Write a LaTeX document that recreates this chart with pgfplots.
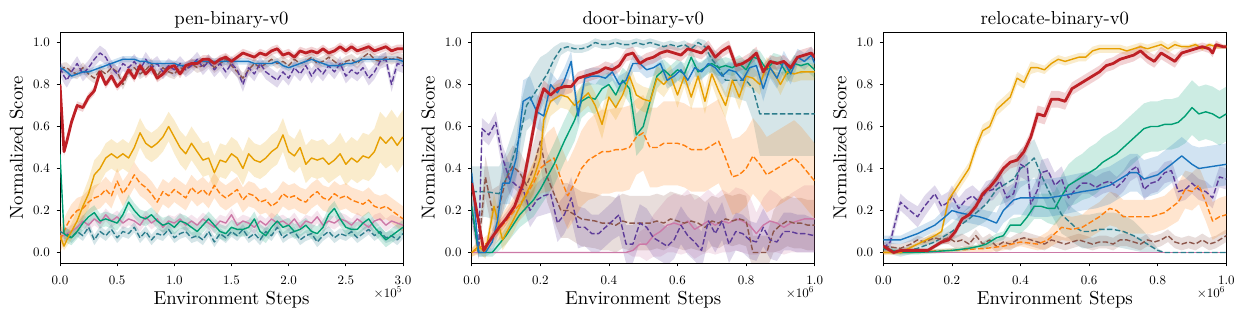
\documentclass[border=0pt]{standalone}
\usepackage{fontspec}
\setmainfont{lmroman10-regular.otf}
\usepackage{pgfplots}
\pgfplotsset{compat=1.18}
\usepackage{pgfplotstable}
\usepgfplotslibrary{fillbetween}

\definecolor{cRed}{RGB}{190,32,38}
\definecolor{cBlue}{RGB}{24,116,190}
\definecolor{cGold}{RGB}{230,159,0}
\definecolor{cGreen}{RGB}{0,158,115}
\definecolor{cPink}{RGB}{204,121,167}
\definecolor{cOrange}{RGB}{255,127,14}
\definecolor{cPurple}{RGB}{94,60,153}
\definecolor{cBrown}{RGB}{140,86,75}
\definecolor{cTeal}{RGB}{45,125,140}

% ---------------- pen-binary-v0 (x in units of 1e5) ----------------
\pgfplotstableread{
x     R    B    P    W    G    O    N    K    T    GS
0     0.80 0.88 0.88 0.87 0.08 0.06 0.47 0.08 0.10 0.02
0.035 0.48 0.87 0.84 0.88 0.03 0.10 0.09 0.08 0.09 0.02
0.06  0.53 0.86 0.82 0.88 0.06 0.13 0.08 0.09 0.09 0.03
0.1   0.62 0.84 0.86 0.86 0.10 0.17 0.07 0.10 0.07 0.04
0.15  0.70 0.85 0.90 0.85 0.15 0.20 0.10 0.12 0.10 0.05
0.2   0.69 0.86 0.85 0.88 0.22 0.21 0.14 0.15 0.08 0.06
0.25  0.74 0.86 0.88 0.85 0.28 0.24 0.17 0.13 0.12 0.07
0.3   0.77 0.87 0.92 0.83 0.37 0.26 0.19 0.16 0.06 0.07
0.35  0.86 0.88 0.95 0.87 0.40 0.27 0.15 0.14 0.10 0.07
0.4   0.80 0.89 0.93 0.85 0.45 0.30 0.16 0.18 0.08 0.07
0.45  0.84 0.90 0.88 0.88 0.47 0.27 0.15 0.15 0.11 0.07
0.5   0.79 0.91 0.85 0.86 0.45 0.34 0.14 0.17 0.07 0.07
0.55  0.82 0.92 0.90 0.80 0.47 0.28 0.18 0.14 0.10 0.07
0.6   0.87 0.92 0.88 0.86 0.45 0.32 0.24 0.16 0.09 0.07
0.65  0.83 0.92 0.91 0.88 0.50 0.37 0.20 0.15 0.12 0.07
0.7   0.89 0.91 0.87 0.85 0.57 0.33 0.17 0.13 0.07 0.07
0.75  0.85 0.91 0.92 0.87 0.52 0.31 0.16 0.17 0.10 0.07
0.8   0.88 0.90 0.88 0.90 0.50 0.28 0.18 0.14 0.06 0.07
0.85  0.83 0.90 0.90 0.84 0.52 0.24 0.15 0.16 0.09 0.07
0.9   0.85 0.90 0.86 0.88 0.55 0.29 0.13 0.12 0.08 0.07
0.95  0.88 0.90 0.89 0.86 0.60 0.27 0.14 0.15 0.11 0.07
1.0   0.89 0.90 0.87 0.85 0.55 0.30 0.12 0.14 0.07 0.08
1.05  0.85 0.89 0.90 0.88 0.50 0.28 0.15 0.16 0.09 0.08
1.1   0.89 0.89 0.87 0.87 0.47 0.26 0.14 0.13 0.10 0.08
1.15  0.90 0.90 0.89 0.90 0.52 0.31 0.12 0.15 0.07 0.08
1.2   0.90 0.91 0.92 0.88 0.48 0.28 0.10 0.13 0.08 0.08
1.25  0.92 0.91 0.88 0.89 0.44 0.30 0.13 0.16 0.06 0.08
1.3   0.92 0.91 0.91 0.91 0.45 0.27 0.16 0.14 0.10 0.08
1.35  0.90 0.91 0.87 0.88 0.38 0.32 0.13 0.12 0.05 0.08
1.4   0.92 0.91 0.90 0.90 0.44 0.28 0.10 0.15 0.09 0.08
1.45  0.93 0.91 0.86 0.92 0.43 0.26 0.09 0.14 0.07 0.08
1.5   0.91 0.91 0.90 0.89 0.47 0.28 0.12 0.18 0.10 0.08
1.55  0.93 0.91 0.87 0.86 0.45 0.30 0.11 0.13 0.08 0.08
1.6   0.95 0.91 0.80 0.83 0.40 0.25 0.11 0.15 0.11 0.08
1.65  0.94 0.91 0.88 0.87 0.47 0.28 0.12 0.14 0.07 0.08
1.7   0.93 0.90 0.85 0.90 0.44 0.27 0.16 0.12 0.09 0.08
1.75  0.95 0.90 0.90 0.88 0.43 0.24 0.10 0.15 0.06 0.08
1.8   0.94 0.90 0.86 0.90 0.45 0.25 0.08 0.13 0.10 0.08
1.85  0.96 0.90 0.84 0.92 0.48 0.22 0.12 0.16 0.08 0.08
1.9   0.97 0.91 0.82 0.90 0.50 0.24 0.15 0.14 0.12 0.08
1.95  0.94 0.89 0.86 0.91 0.56 0.28 0.12 0.15 0.07 0.08
2.0   0.95 0.88 0.83 0.89 0.48 0.26 0.13 0.13 0.09 0.08
2.05  0.93 0.89 0.88 0.92 0.46 0.27 0.10 0.16 0.10 0.08
2.1   0.96 0.90 0.85 0.90 0.50 0.25 0.11 0.12 0.06 0.09
2.15  0.95 0.91 0.89 0.91 0.42 0.24 0.13 0.15 0.08 0.09
2.2   0.96 0.92 0.84 0.93 0.45 0.27 0.10 0.14 0.09 0.09
2.25  0.95 0.91 0.88 0.90 0.44 0.29 0.09 0.17 0.05 0.09
2.3   0.97 0.90 0.85 0.91 0.45 0.26 0.12 0.13 0.08 0.09
2.35  0.95 0.89 0.89 0.93 0.42 0.25 0.18 0.15 0.10 0.09
2.4   0.96 0.89 0.86 0.91 0.44 0.28 0.21 0.14 0.07 0.09
2.45  0.98 0.89 0.90 0.89 0.47 0.26 0.16 0.16 0.09 0.10
2.5   0.96 0.90 0.84 0.91 0.42 0.27 0.12 0.15 0.08 0.10
2.55  0.98 0.90 0.87 0.92 0.45 0.25 0.11 0.13 0.10 0.10
2.6   0.96 0.91 0.85 0.90 0.43 0.24 0.11 0.16 0.07 0.10
2.65  0.97 0.92 0.88 0.93 0.46 0.23 0.14 0.14 0.09 0.11
2.7   0.98 0.92 0.83 0.95 0.45 0.25 0.16 0.12 0.11 0.11
2.75  0.96 0.92 0.86 0.92 0.48 0.22 0.12 0.15 0.08 0.11
2.8   0.97 0.92 0.91 0.91 0.55 0.21 0.09 0.16 0.10 0.12
2.85  0.98 0.92 0.92 0.93 0.52 0.22 0.06 0.13 0.07 0.12
2.9   0.96 0.92 0.80 0.92 0.55 0.20 0.08 0.15 0.08 0.13
2.95  0.97 0.92 0.90 0.93 0.51 0.18 0.10 0.14 0.06 0.13
3.0   0.97 0.91 0.89 0.92 0.55 0.16 0.12 0.13 0.09 0.13
}\pen

% ---------------- door-binary-v0 (x in units of 1e6) ----------------
\pgfplotstableread{
x y s
0 0.33 0.03
0.035 0.01 0.01
0.05 0.05 0.02
0.08 0.12 0.03
0.10 0.16 0.03
0.125 0.22 0.03
0.15 0.33 0.04
0.17 0.50 0.05
0.19 0.68 0.05
0.21 0.78 0.04
0.23 0.75 0.04
0.25 0.78 0.04
0.27 0.79 0.04
0.29 0.79 0.03
0.31 0.83 0.03
0.33 0.84 0.03
0.35 0.85 0.03
0.37 0.86 0.03
0.39 0.88 0.03
0.41 0.87 0.03
0.43 0.89 0.03
0.45 0.94 0.03
0.47 0.95 0.03
0.49 0.90 0.03
0.51 0.92 0.03
0.53 0.93 0.03
0.55 0.95 0.03
0.57 0.96 0.03
0.59 0.95 0.03
0.61 0.94 0.03
0.63 0.97 0.03
0.65 0.96 0.03
0.67 0.95 0.03
0.69 0.98 0.03
0.71 0.93 0.03
0.73 0.96 0.03
0.75 0.98 0.03
0.77 0.89 0.03
0.79 0.90 0.03
0.81 0.92 0.03
0.83 0.95 0.03
0.85 0.86 0.03
0.87 0.91 0.03
0.89 0.90 0.03
0.91 0.91 0.03
0.93 0.88 0.03
0.95 0.93 0.03
0.97 0.94 0.03
0.99 0.95 0.03
1.0 0.93 0.03
}\dRed
\pgfplotstableread{
x y s
0 0.38 0.05
0.02 0.0 0.02
0.04 0.0 0.02
0.06 0.05 0.05
0.075 0.15 0.08
0.09 0.33 0.10
0.11 0.33 0.10
0.13 0.45 0.10
0.15 0.72 0.10
0.17 0.74 0.10
0.19 0.67 0.08
0.21 0.65 0.08
0.23 0.80 0.06
0.25 0.76 0.06
0.27 0.82 0.06
0.29 0.91 0.05
0.31 0.65 0.05
0.33 0.83 0.04
0.35 0.84 0.04
0.37 0.84 0.04
0.39 0.83 0.04
0.41 0.86 0.04
0.43 0.80 0.04
0.45 0.82 0.04
0.47 0.90 0.04
0.49 0.90 0.04
0.51 0.87 0.04
0.53 0.88 0.04
0.55 0.90 0.04
0.57 0.82 0.04
0.59 0.84 0.04
0.61 0.87 0.04
0.63 0.82 0.04
0.65 0.88 0.04
0.67 0.86 0.04
0.69 0.90 0.04
0.71 0.88 0.04
0.73 0.84 0.04
0.75 0.87 0.04
0.77 0.86 0.04
0.79 0.82 0.05
0.81 0.88 0.05
0.83 0.89 0.05
0.85 0.78 0.06
0.87 0.88 0.05
0.89 0.83 0.05
0.91 0.91 0.05
0.93 0.85 0.05
0.95 0.93 0.04
0.97 0.91 0.04
0.99 0.94 0.04
1.0 0.90 0.04
}\dBlue
\pgfplotstableread{
x y s
0 0.29 0.12
0.04 0.29 0.12
0.08 0.28 0.13
0.10 0.35 0.13
0.12 0.45 0.13
0.14 0.55 0.14
0.16 0.70 0.12
0.18 0.75 0.13
0.20 0.80 0.13
0.22 0.85 0.10
0.24 0.92 0.06
0.26 0.97 0.03
0.28 0.98 0.02
0.30 0.97 0.02
0.32 0.97 0.02
0.34 0.98 0.02
0.36 1.00 0.02
0.38 0.99 0.02
0.40 0.99 0.02
0.42 1.00 0.02
0.44 0.99 0.02
0.46 0.99 0.02
0.48 1.00 0.02
0.50 0.99 0.02
0.52 1.00 0.02
0.54 0.99 0.02
0.56 0.98 0.02
0.58 0.99 0.02
0.60 0.98 0.02
0.62 0.99 0.02
0.64 0.97 0.02
0.66 1.00 0.02
0.68 0.98 0.03
0.70 0.92 0.05
0.72 0.88 0.07
0.74 0.82 0.08
0.76 0.82 0.08
0.78 0.82 0.09
0.80 0.82 0.10
0.82 0.78 0.15
0.84 0.66 0.20
0.86 0.66 0.20
0.88 0.66 0.20
0.90 0.66 0.20
0.92 0.66 0.20
0.94 0.66 0.20
0.96 0.66 0.20
0.98 0.66 0.20
1.0 0.66 0.20
}\dTeal
\pgfplotstableread{
x y s
0 0.0 0.02
0.02 0.03 0.03
0.04 0.0 0.03
0.065 0.22 0.06
0.09 0.06 0.05
0.12 0.15 0.06
0.15 0.25 0.06
0.18 0.35 0.08
0.20 0.45 0.08
0.21 0.63 0.08
0.23 0.72 0.07
0.26 0.75 0.06
0.28 0.74 0.06
0.30 0.70 0.06
0.32 0.73 0.06
0.34 0.76 0.06
0.36 0.70 0.06
0.38 0.61 0.07
0.40 0.74 0.06
0.42 0.69 0.06
0.44 0.75 0.06
0.46 0.84 0.06
0.48 0.75 0.06
0.50 0.73 0.06
0.52 0.72 0.06
0.54 0.83 0.06
0.56 0.80 0.06
0.58 0.84 0.05
0.60 0.75 0.06
0.62 0.84 0.05
0.64 0.74 0.06
0.66 0.84 0.05
0.68 0.72 0.06
0.70 0.85 0.05
0.72 0.77 0.06
0.74 0.70 0.06
0.76 0.82 0.05
0.78 0.74 0.06
0.80 0.84 0.05
0.82 0.83 0.05
0.84 0.80 0.05
0.86 0.89 0.04
0.88 0.86 0.04
0.90 0.80 0.05
0.92 0.86 0.04
0.94 0.85 0.04
0.96 0.86 0.04
0.98 0.86 0.04
1.0 0.86 0.04
}\dGold
\pgfplotstableread{
x y s
0 0.22 0.05
0.02 0.0 0.02
0.06 0.0 0.02
0.10 0.08 0.04
0.14 0.18 0.06
0.18 0.25 0.08
0.20 0.30 0.08
0.24 0.42 0.10
0.27 0.53 0.10
0.30 0.63 0.10
0.32 0.72 0.08
0.34 0.74 0.07
0.36 0.73 0.07
0.38 0.78 0.06
0.40 0.80 0.06
0.42 0.75 0.06
0.44 0.82 0.06
0.46 0.78 0.07
0.48 0.56 0.10
0.50 0.60 0.10
0.52 0.72 0.08
0.54 0.84 0.06
0.56 0.87 0.05
0.58 0.84 0.05
0.60 0.87 0.05
0.62 0.85 0.05
0.64 0.93 0.04
0.66 0.86 0.04
0.68 0.88 0.04
0.70 0.90 0.04
0.72 0.88 0.04
0.74 0.89 0.04
0.76 0.88 0.04
0.78 0.90 0.04
0.80 0.87 0.04
0.82 0.93 0.04
0.84 0.92 0.04
0.86 0.87 0.04
0.88 0.91 0.04
0.90 0.90 0.04
0.92 0.85 0.04
0.94 0.90 0.04
0.96 0.89 0.04
0.98 0.90 0.04
1.0 0.87 0.04
}\dGreen
\pgfplotstableread{
x y s
0 0.0 0.02
0.05 0.05 0.04
0.10 0.15 0.06
0.15 0.25 0.08
0.18 0.33 0.10
0.20 0.40 0.12
0.22 0.43 0.14
0.24 0.45 0.15
0.26 0.35 0.16
0.28 0.27 0.16
0.30 0.33 0.17
0.32 0.40 0.18
0.34 0.44 0.19
0.36 0.46 0.20
0.38 0.48 0.20
0.40 0.48 0.20
0.42 0.49 0.20
0.44 0.49 0.20
0.46 0.50 0.20
0.48 0.55 0.18
0.50 0.57 0.18
0.52 0.50 0.19
0.54 0.50 0.19
0.56 0.52 0.20
0.58 0.52 0.20
0.60 0.52 0.20
0.62 0.51 0.20
0.64 0.49 0.20
0.66 0.49 0.20
0.68 0.49 0.20
0.70 0.51 0.20
0.72 0.53 0.20
0.74 0.45 0.19
0.76 0.36 0.18
0.78 0.37 0.18
0.80 0.40 0.18
0.82 0.46 0.18
0.84 0.42 0.18
0.86 0.37 0.18
0.88 0.39 0.18
0.90 0.41 0.18
0.92 0.43 0.18
0.94 0.45 0.18
0.96 0.42 0.18
0.98 0.38 0.18
1.0 0.34 0.18
}\dOrange
\pgfplotstableread{
x y s
0 0.20 0.05
0.02 0.0 0.03
0.03 0.59 0.05
0.05 0.56 0.05
0.07 0.62 0.05
0.09 0.45 0.06
0.11 0.35 0.07
0.13 0.32 0.08
0.15 0.30 0.08
0.17 0.20 0.08
0.19 0.25 0.08
0.21 0.27 0.09
0.23 0.28 0.09
0.25 0.14 0.09
0.27 0.18 0.09
0.29 0.26 0.10
0.31 0.12 0.10
0.33 0.12 0.09
0.35 0.09 0.09
0.37 0.09 0.09
0.39 0.12 0.09
0.41 0.15 0.09
0.43 0.18 0.10
0.45 0.04 0.09
0.47 0.04 0.09
0.49 0.14 0.09
0.51 0.12 0.09
0.53 0.07 0.09
0.55 0.05 0.09
0.57 0.03 0.09
0.59 0.06 0.09
0.61 0.13 0.09
0.63 0.08 0.09
0.65 0.05 0.09
0.67 0.01 0.09
0.69 0.15 0.09
0.71 0.09 0.09
0.73 0.15 0.09
0.75 0.04 0.09
0.77 0.10 0.09
0.79 0.09 0.09
0.81 0.06 0.09
0.83 0.05 0.09
0.85 0.12 0.09
0.87 0.06 0.09
0.89 0.05 0.09
0.91 0.10 0.09
0.93 0.10 0.09
0.95 0.09 0.09
0.97 0.09 0.09
1.0 0.08 0.08
}\dPurple
\pgfplotstableread{
x y s
0 0.20 0.08
0.02 0.02 0.05
0.04 0.36 0.10
0.06 0.20 0.10
0.08 0.22 0.10
0.10 0.35 0.10
0.12 0.41 0.10
0.14 0.38 0.10
0.16 0.32 0.10
0.18 0.40 0.12
0.20 0.53 0.12
0.22 0.36 0.12
0.24 0.28 0.13
0.26 0.20 0.13
0.28 0.20 0.13
0.30 0.18 0.13
0.32 0.16 0.13
0.36 0.15 0.13
0.38 0.14 0.13
0.40 0.14 0.13
0.42 0.13 0.13
0.44 0.15 0.13
0.46 0.14 0.13
0.48 0.14 0.13
0.50 0.14 0.13
0.52 0.14 0.13
0.54 0.15 0.13
0.56 0.14 0.13
0.58 0.16 0.13
0.60 0.15 0.13
0.62 0.14 0.13
0.64 0.15 0.13
0.66 0.14 0.13
0.68 0.12 0.12
0.70 0.15 0.12
0.72 0.14 0.12
0.74 0.16 0.12
0.76 0.15 0.12
0.78 0.16 0.12
0.80 0.15 0.12
0.82 0.0 0.08
0.86 0.0 0.08
0.88 0.10 0.10
0.90 0.13 0.12
0.92 0.15 0.12
0.94 0.14 0.12
0.96 0.14 0.12
0.98 0.13 0.12
1.0 0.13 0.12
}\dBrown
\pgfplotstableread{
x y s
0 0.0 0.0
0.45 0.0 0.0
0.47 0.01 0.03
0.49 0.04 0.06
0.51 0.04 0.08
0.53 0.08 0.10
0.55 0.10 0.12
0.57 0.13 0.13
0.59 0.14 0.14
0.61 0.13 0.14
0.63 0.15 0.15
0.65 0.11 0.14
0.67 0.13 0.14
0.69 0.15 0.15
0.71 0.13 0.14
0.73 0.15 0.15
0.75 0.14 0.14
0.77 0.16 0.15
0.79 0.15 0.15
0.81 0.13 0.14
0.83 0.09 0.10
0.85 0.13 0.13
0.87 0.15 0.15
0.89 0.14 0.14
0.91 0.12 0.13
0.93 0.14 0.14
0.95 0.15 0.15
0.97 0.16 0.16
1.0 0.16 0.16
}\dPink

% ---------------- relocate-binary-v0 (x in units of 1e6) ----------------
\pgfplotstableread{
x y s
0 0.0 0.01
0.05 0.0 0.01
0.10 0.04 0.01
0.15 0.08 0.02
0.17 0.10 0.02
0.19 0.25 0.03
0.21 0.30 0.03
0.23 0.35 0.03
0.25 0.40 0.03
0.27 0.50 0.03
0.29 0.58 0.03
0.31 0.60 0.03
0.33 0.68 0.03
0.35 0.71 0.03
0.37 0.74 0.03
0.39 0.83 0.03
0.41 0.81 0.03
0.43 0.88 0.03
0.45 0.88 0.02
0.47 0.87 0.02
0.49 0.90 0.02
0.51 0.92 0.02
0.53 0.91 0.02
0.55 0.92 0.02
0.57 0.93 0.02
0.59 0.93 0.02
0.61 0.96 0.02
0.63 0.97 0.02
0.65 0.97 0.02
0.67 0.97 0.02
0.69 0.97 0.02
0.71 0.96 0.02
0.73 0.97 0.02
0.75 0.98 0.02
0.77 0.97 0.02
0.79 0.98 0.02
0.81 0.99 0.02
0.83 0.97 0.02
0.85 0.99 0.02
0.87 0.98 0.01
0.89 0.98 0.01
0.91 0.99 0.01
0.93 0.97 0.01
0.95 0.99 0.01
0.97 0.98 0.01
1.0 0.98 0.01
}\rGold
\pgfplotstableread{
x y s
0 0.03 0.01
0.03 0.0 0.01
0.05 0.01 0.01
0.10 0.01 0.01
0.13 0.01 0.01
0.15 0.03 0.01
0.17 0.05 0.01
0.19 0.06 0.02
0.21 0.10 0.02
0.23 0.16 0.02
0.25 0.18 0.02
0.27 0.22 0.02
0.29 0.28 0.02
0.31 0.31 0.02
0.33 0.35 0.03
0.35 0.40 0.03
0.37 0.43 0.03
0.39 0.44 0.03
0.41 0.48 0.03
0.43 0.55 0.03
0.45 0.66 0.04
0.47 0.65 0.04
0.49 0.73 0.04
0.51 0.73 0.04
0.53 0.72 0.04
0.55 0.78 0.03
0.57 0.80 0.03
0.59 0.82 0.03
0.61 0.84 0.03
0.63 0.86 0.03
0.65 0.89 0.03
0.67 0.90 0.03
0.69 0.92 0.03
0.71 0.93 0.03
0.73 0.94 0.03
0.75 0.96 0.03
0.77 0.93 0.03
0.79 0.91 0.03
0.81 0.95 0.03
0.83 0.93 0.03
0.85 0.91 0.03
0.87 0.95 0.02
0.89 0.96 0.02
0.91 0.97 0.02
0.93 0.98 0.02
0.95 0.97 0.02
0.96 0.95 0.02
0.97 0.99 0.02
0.99 0.98 0.01
1.0 0.98 0.01
}\rRed
\pgfplotstableread{
x y s
0 0.02 0.01
0.05 0.0 0.01
0.10 0.0 0.01
0.20 0.01 0.01
0.25 0.02 0.01
0.28 0.03 0.01
0.30 0.04 0.02
0.33 0.07 0.02
0.35 0.08 0.02
0.37 0.13 0.03
0.40 0.13 0.04
0.42 0.17 0.05
0.44 0.22 0.06
0.46 0.22 0.06
0.48 0.21 0.07
0.50 0.21 0.08
0.52 0.27 0.10
0.54 0.32 0.10
0.56 0.34 0.11
0.58 0.36 0.11
0.60 0.38 0.12
0.62 0.40 0.12
0.64 0.43 0.12
0.66 0.45 0.12
0.68 0.47 0.12
0.70 0.50 0.12
0.72 0.53 0.12
0.74 0.56 0.12
0.76 0.59 0.12
0.78 0.60 0.12
0.80 0.60 0.12
0.82 0.61 0.12
0.84 0.61 0.12
0.86 0.62 0.12
0.88 0.65 0.13
0.90 0.69 0.13
0.92 0.66 0.13
0.94 0.67 0.13
0.96 0.66 0.13
0.98 0.64 0.13
1.0 0.66 0.13
}\rGreen
\pgfplotstableread{
x y s
0 0.06 0.02
0.05 0.06 0.02
0.10 0.09 0.03
0.15 0.13 0.03
0.18 0.17 0.04
0.20 0.20 0.04
0.22 0.19 0.04
0.25 0.18 0.04
0.28 0.17 0.04
0.30 0.16 0.04
0.33 0.14 0.05
0.35 0.20 0.06
0.38 0.25 0.07
0.40 0.26 0.08
0.44 0.26 0.09
0.48 0.26 0.09
0.52 0.27 0.09
0.55 0.28 0.09
0.58 0.29 0.09
0.62 0.30 0.09
0.66 0.32 0.09
0.70 0.36 0.09
0.72 0.38 0.09
0.74 0.38 0.09
0.76 0.35 0.09
0.80 0.37 0.09
0.84 0.42 0.09
0.87 0.46 0.09
0.90 0.42 0.09
0.92 0.40 0.10
0.96 0.41 0.10
1.0 0.42 0.10
}\rBlue
\pgfplotstableread{
x y s
0 0.02 0.02
0.02 0.05 0.03
0.05 0.24 0.04
0.07 0.21 0.04
0.10 0.17 0.05
0.12 0.22 0.05
0.15 0.28 0.04
0.17 0.22 0.05
0.19 0.24 0.05
0.20 0.27 0.05
0.22 0.21 0.05
0.24 0.25 0.05
0.26 0.27 0.05
0.28 0.24 0.05
0.30 0.29 0.05
0.32 0.30 0.05
0.34 0.34 0.05
0.36 0.26 0.05
0.38 0.28 0.05
0.40 0.42 0.06
0.42 0.40 0.06
0.43 0.23 0.06
0.45 0.30 0.06
0.46 0.38 0.06
0.48 0.39 0.06
0.50 0.32 0.06
0.52 0.35 0.06
0.54 0.26 0.06
0.56 0.30 0.05
0.58 0.33 0.05
0.60 0.33 0.05
0.62 0.31 0.05
0.64 0.33 0.05
0.66 0.34 0.05
0.68 0.31 0.05
0.70 0.34 0.05
0.72 0.39 0.05
0.74 0.41 0.05
0.76 0.30 0.05
0.78 0.33 0.05
0.80 0.34 0.05
0.82 0.38 0.05
0.84 0.39 0.05
0.86 0.29 0.05
0.88 0.30 0.05
0.90 0.33 0.05
0.92 0.30 0.05
0.94 0.29 0.05
0.96 0.26 0.05
0.98 0.36 0.05
1.0 0.35 0.05
}\rPurple
\pgfplotstableread{
x y s
0 0.02 0.02
0.05 0.0 0.02
0.10 0.02 0.02
0.15 0.05 0.03
0.20 0.10 0.04
0.25 0.16 0.06
0.30 0.23 0.08
0.33 0.30 0.08
0.36 0.33 0.09
0.38 0.35 0.09
0.40 0.40 0.09
0.42 0.42 0.09
0.44 0.45 0.09
0.46 0.37 0.09
0.48 0.30 0.09
0.50 0.24 0.09
0.52 0.18 0.09
0.54 0.15 0.08
0.56 0.12 0.08
0.58 0.10 0.08
0.60 0.10 0.08
0.63 0.11 0.08
0.67 0.11 0.08
0.70 0.10 0.08
0.73 0.08 0.07
0.76 0.05 0.05
0.78 0.03 0.03
0.80 0.01 0.01
0.82 0.0 0.0
1.0 0.0 0.0
}\rTeal
\pgfplotstableread{
x y s
0 0.0 0.01
0.20 0.01 0.01
0.30 0.02 0.02
0.35 0.03 0.02
0.40 0.05 0.02
0.45 0.04 0.03
0.48 0.06 0.04
0.50 0.09 0.05
0.52 0.12 0.06
0.55 0.11 0.06
0.58 0.12 0.06
0.60 0.14 0.07
0.63 0.17 0.07
0.66 0.21 0.08
0.68 0.20 0.08
0.70 0.17 0.08
0.74 0.17 0.08
0.78 0.17 0.08
0.82 0.19 0.08
0.86 0.24 0.09
0.88 0.30 0.09
0.90 0.29 0.09
0.92 0.32 0.09
0.94 0.24 0.09
0.96 0.15 0.09
0.98 0.17 0.09
1.0 0.18 0.09
}\rOrange
\pgfplotstableread{
x y s
0 0.03 0.02
0.05 0.02 0.02
0.08 0.04 0.02
0.10 0.06 0.02
0.12 0.05 0.02
0.15 0.07 0.02
0.17 0.06 0.02
0.19 0.07 0.03
0.21 0.05 0.03
0.23 0.06 0.03
0.25 0.04 0.03
0.27 0.08 0.03
0.29 0.04 0.03
0.31 0.06 0.03
0.33 0.03 0.03
0.35 0.05 0.03
0.37 0.04 0.03
0.39 0.06 0.03
0.41 0.07 0.03
0.43 0.06 0.03
0.45 0.05 0.03
0.47 0.04 0.03
0.49 0.06 0.03
0.51 0.05 0.03
0.53 0.04 0.03
0.55 0.05 0.03
0.57 0.06 0.03
0.59 0.05 0.03
0.61 0.04 0.03
0.63 0.05 0.03
0.65 0.05 0.03
0.67 0.04 0.03
0.69 0.06 0.03
0.71 0.06 0.03
0.73 0.05 0.03
0.75 0.04 0.03
0.77 0.06 0.03
0.79 0.05 0.03
0.81 0.06 0.03
0.83 0.08 0.03
0.85 0.05 0.03
0.87 0.04 0.03
0.89 0.05 0.03
0.91 0.04 0.03
0.93 0.06 0.03
0.95 0.04 0.03
0.97 0.05 0.03
0.99 0.07 0.03
1.0 0.08 0.03
}\rBrown
\pgfplotstableread{
x y s
0 0.0 0.004
1.0 0.0 0.004
}\rPink

% series: #1 table, #2 id, #3 y column, #4 band half width, #5 colour, #6 line style
\newcommand{\srs}[6]{%
  \addplot[draw=none, name path=U#2, forget plot] table[x=x, y expr=\thisrow{#3}+#4] {#1};
  \addplot[draw=none, name path=L#2, forget plot] table[x=x, y expr=\thisrow{#3}-#4] {#1};
  \addplot[fill=#5, fill opacity=0.2, draw=none, forget plot] fill between[of=U#2 and L#2];
  \addplot[#5, #6] table[x=x, y=#3] {#1};
}

\pgfplotsset{
  panel/.style={
    scale only axis, width=343bp, height=231bp,
    xmin=0, ymin=-0.05, ymax=1.05,
    ytick={0,0.2,0.4,0.6,0.8,1},
    tick align=outside, tick pos=left, major tick length=3.5bp,
    axis line style={line width=0.8bp},
    every tick/.style={black, line width=0.8bp},
    tick label style={font=\fontsize{13}{15}\selectfont},
    xticklabel={\pgfmathprintnumber[fixed,fixed zerofill,precision=1,assume math mode=true]{\tick}},
    yticklabel={\pgfmathprintnumber[fixed,fixed zerofill,precision=1,assume math mode=true]{\tick}},
    xticklabel style={anchor=base, inner sep=0pt, yshift=-17.5bp},
    yticklabel style={anchor=east, inner sep=0pt, xshift=-6.5bp},
    title style={font=\fontsize{18.8}{22}\selectfont, at={(axis description cs:0.5,1.0325)}, anchor=base, yshift=-6pt},
    label style={font=\fontsize{18.8}{22}\selectfont},
    xlabel style={at={(axis description cs:0.5,-0.1818)}, anchor=base},
    ylabel style={at={(axis description cs:-0.1079,0.5)}, anchor=base},
    ylabel={Normalized Score}, xlabel={Environment Steps},
    every axis plot/.append style={line width=1.4bp, line join=round},
  },
  dsh/.style={dash pattern=on 5.5bp off 2.4bp},
  thick red/.style={line width=2.8bp},
}

\begin{document}
\begin{tikzpicture}

\begin{axis}[panel, at={(60bp,56bp)}, anchor=south west, xmax=3, xtick={0,0.5,1,1.5,2,2.5,3}, title={pen-binary-v0}]
  \srs{\pen}{pK}{K}{0.03}{cPink}{solid}
  \srs{\pen}{pT}{T}{0.025}{cTeal}{dsh}
  \srs{\pen}{pW}{W}{0.025}{cBrown}{dsh}
  \srs{\pen}{pP}{P}{0.035}{cPurple}{dsh}
  \srs{\pen}{pO}{O}{0.06}{cOrange}{dsh}
  \srs{\pen}{pN}{N}{0.035}{cGreen}{solid}
  \srs{\pen}{pG}{G}{\thisrow{GS}}{cGold}{solid}
  \srs{\pen}{pB}{B}{0.015}{cBlue}{solid}
  \srs{\pen}{pR}{R}{0.02}{cRed}{thick red}
\end{axis}

\begin{axis}[panel, at={(471.7bp,56bp)}, anchor=south west, xmax=1, xtick={0,0.2,0.4,0.6,0.8,1}, title={door-binary-v0}]
  \srs{\dPink}{dK}{y}{\thisrow{s}}{cPink}{solid}
  \srs{\dTeal}{dT}{y}{\thisrow{s}}{cTeal}{dsh}
  \srs{\dBrown}{dW}{y}{\thisrow{s}}{cBrown}{dsh}
  \srs{\dPurple}{dP}{y}{\thisrow{s}}{cPurple}{dsh}
  \srs{\dOrange}{dO}{y}{\thisrow{s}}{cOrange}{dsh}
  \srs{\dGreen}{dN}{y}{\thisrow{s}}{cGreen}{solid}
  \srs{\dGold}{dG}{y}{\thisrow{s}}{cGold}{solid}
  \srs{\dBlue}{dB}{y}{\thisrow{s}}{cBlue}{solid}
  \srs{\dRed}{dR}{y}{\thisrow{s}}{cRed}{thick red}
\end{axis}

\begin{axis}[panel, at={(883.3bp,56bp)}, anchor=south west, xmax=1, xtick={0,0.2,0.4,0.6,0.8,1}, title={relocate-binary-v0}]
  \srs{\rPink}{rK}{y}{\thisrow{s}}{cPink}{solid}
  \srs{\rTeal}{rT}{y}{\thisrow{s}}{cTeal}{dsh}
  \srs{\rBrown}{rW}{y}{\thisrow{s}}{cBrown}{dsh}
  \srs{\rPurple}{rP}{y}{\thisrow{s}}{cPurple}{dsh}
  \srs{\rOrange}{rO}{y}{\thisrow{s}}{cOrange}{dsh}
  \srs{\rGreen}{rN}{y}{\thisrow{s}}{cGreen}{solid}
  \srs{\rGold}{rG}{y}{\thisrow{s}}{cGold}{solid}
  \srs{\rBlue}{rB}{y}{\thisrow{s}}{cBlue}{solid}
  \srs{\rRed}{rR}{y}{\thisrow{s}}{cRed}{thick red}
\end{axis}

\node[anchor=base east, font=\fontsize{13}{15}\selectfont, inner sep=0pt] at (402bp,22bp) {×10\textsuperscript{5}};
\node[anchor=base east, font=\fontsize{13}{15}\selectfont, inner sep=0pt] at (814bp,22bp) {×10\textsuperscript{6}};
\node[anchor=base east, font=\fontsize{13}{15}\selectfont, inner sep=0pt] at (1225bp,22bp) {×10\textsuperscript{6}};
\pgfresetboundingbox
\path[use as bounding box] (0bp,0bp) rectangle (1245bp,319bp);
\end{tikzpicture}
\end{document}
